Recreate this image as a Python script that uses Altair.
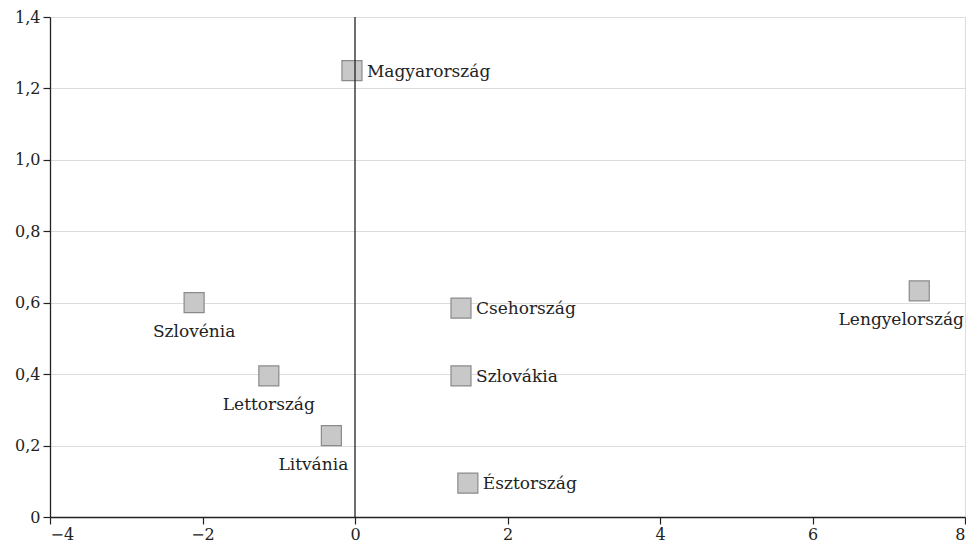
import altair as alt
import pandas as pd

names = ["Magyarország", "Szlovénia", "Lettország", "Litvánia",
         "Csehország", "Szlovákia", "Észtország", "Lengyelország"]
xs = [-0.04, -2.11, -1.13, -0.31, 1.39, 1.39, 1.48, 7.40]
ys = [1.25, 0.60, 0.395, 0.228, 0.585, 0.395, 0.095, 0.633]
label_side = ["right", "below", "below", "below", "right", "right", "right", "below"]
x_ticks = [-4, -2, 0, 2, 4, 6, 8]
y_ticks = [0, 0.2, 0.4, 0.6, 0.8, 1.0, 1.2, 1.4]

df = pd.DataFrame({"name": names, "x": xs, "y": ys, "side": label_side})

FONT = "DejaVu Serif"

xscale = alt.Scale(domain=[-4, 8], nice=False, zero=False)
yscale = alt.Scale(domain=[0, 1.4], nice=False)

xaxis = alt.Axis(values=x_ticks, title=None, grid=False,
                 domainColor="#222222", tickColor="#222222",
                 tickSize=7, labelPadding=2, labelFontSize=16,
                 labelFont=FONT, labelColor="#222222", domainWidth=1.3,
                 tickWidth=1.2, format="d")
yaxis = alt.Axis(values=y_ticks, title=None,
                 grid=True, gridColor="#dcdcdc", gridWidth=1.2,
                 domainColor="#222222", tickColor="#222222",
                 tickSize=7, labelPadding=3, labelFontSize=16,
                 labelFont=FONT, labelColor="#222222", domainWidth=1.3,
                 tickWidth=1.2,
                 labelExpr="datum.value == 0 ? '0' : replace(format(datum.value, '.1f'), '.', ',')")

def X():
    return alt.X("x:Q", scale=xscale, axis=xaxis)

def Y():
    return alt.Y("y:Q", scale=yscale, axis=yaxis)

base = alt.Chart(df)

points = base.mark_square(
    size=400, fill="#c8c8c8", stroke="#8a8a8a", strokeWidth=1.2, opacity=1
).encode(x=X(), y=Y())

zero_line = base.transform_filter(alt.datum.name == names[0]).transform_calculate(
    zx="0"
).mark_rule(color="#222222", strokeWidth=1.3).encode(
    x=alt.X("zx:Q", scale=xscale, axis=xaxis)
)

right_labels = base.transform_filter(alt.datum.side == "right").mark_text(
    align="left", baseline="middle", dx=15, dy=1, font=FONT, fontSize=17, color="#222222"
).encode(x=X(), y=Y(), text="name:N")

below_dx = {"Szlovénia": 0, "Lettország": 0, "Litvánia": -18, "Lengyelország": -18}
below_layers = []
for nm, ddx in below_dx.items():
    below_layers.append(
        base.transform_filter(alt.datum.name == nm).mark_text(
            align="center", baseline="middle", dx=ddx, dy=29, font=FONT, fontSize=17,
            color="#222222"
        ).encode(x=X(), y=Y(), text="name:N"))

chart = alt.layer(points, zero_line, right_labels, *below_layers).properties(
    width=915, height=500,
    padding={"left": 6, "top": 1, "right": 0, "bottom": 5},
).configure_view(stroke=None).configure(background="white")

chart.save("out.html", embed_options={"renderer": "svg", "actions": False})
